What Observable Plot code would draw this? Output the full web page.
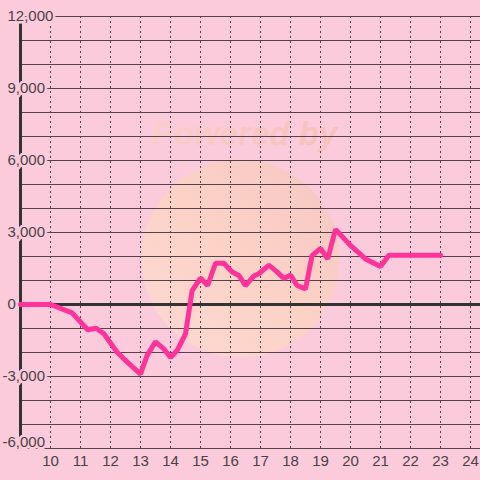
<!DOCTYPE html>
<html>
<head>
<meta charset="utf-8">
<script src="https://cdn.jsdelivr.net/npm/d3@7"></script>
<script src="https://cdn.jsdelivr.net/npm/@observablehq/plot@0.6"></script>
<style>
  html, body { margin: 0; padding: 0; background: #fccbdb; }
</style>
</head>
<body>
<div id="chart"></div>
<script>
// Data
const days = [9, 10, 10.72, 11.24, 11.52, 11.78, 12.22, 12.56, 13.0, 13.22, 13.5, 13.78, 14.0, 14.22, 14.5, 14.72, 15.0, 15.24, 15.5, 15.78, 16.06, 16.28, 16.5, 16.78, 16.94, 17.28, 17.56, 17.78, 18.0, 18.22, 18.5, 18.72, 19.0, 19.24, 19.5, 20.0, 20.5, 21.0, 21.28, 23.0];
const values = [0, 0, -350, -1050, -990, -1220, -1990, -2400, -2900, -2120, -1560, -1850, -2210, -1920, -1220, 580, 1100, 790, 1720, 1720, 1350, 1210, 790, 1190, 1280, 1640, 1350, 1080, 1230, 790, 650, 2040, 2340, 1900, 3130, 2460, 1900, 1580, 2050, 2050];
const xTicks = [10, 11, 12, 13, 14, 15, 16, 17, 18, 19, 20, 21, 22, 23, 24];
const yLabelTicks = [-6000, -3000, 0, 3000, 6000, 9000, 12000];
const yGrid = d3.range(-6000, 12001, 1000);
const watermark = ["Powered by"];

const bg = "#fccbdb";
const gridColor = "#56414c";
const textColor = "#4a4146";

const data = days.map((d, i) => ({day: d, value: values[i]}));
const fmt = d3.format(",");

const chart = Plot.plot({
  width: 480,
  height: 480,
  marginLeft: 20,
  marginRight: 0,
  marginTop: 16,
  marginBottom: 32,
  x: {domain: [9, 24 + 1/3], axis: null},
  y: {domain: [-6000, 12000], axis: null},
  style: {background: bg, fontFamily: "'Liberation Sans', Arial, sans-serif", fontSize: "15px", overflow: "visible"},
  marks: [
    Plot.dot([0], {frameAnchor: "middle", r: 99, dx: -10, dy: 26, fill: "url(#wmgrad)", stroke: "none"}),
    Plot.text(watermark, {frameAnchor: "middle", dx: -6, dy: -98, text: d => d, fontSize: 33, fontWeight: "bold", fontStyle: "italic", fill: "url(#txtgrad)"}),
    Plot.ruleY(yGrid, {stroke: gridColor, strokeWidth: 1}),
    Plot.ruleX(xTicks, {stroke: gridColor, strokeWidth: 1, strokeDasharray: "2,3"}),
    Plot.ruleY([0], {stroke: "#333", strokeWidth: 3}),
    Plot.ruleX([9], {stroke: "#333", strokeWidth: 3}),
    Plot.line(data, {x: "day", y: "value", stroke: "#ff3399", strokeWidth: 5, strokeLinejoin: "miter"}),
    Plot.text(yLabelTicks.filter(v => v >= 0), {frameAnchor: "left", y: d => d, text: d => fmt(d), textAnchor: "start", dx: -13, fill: textColor, stroke: bg, strokeWidth: 5, fontSize: 15}),
    Plot.text(yLabelTicks.filter(v => v < 0 && v > -6000), {frameAnchor: "left", y: d => d, text: d => fmt(d).replace("−", "-"), textAnchor: "start", dx: -18, fill: textColor, stroke: bg, strokeWidth: 5, fontSize: 15}),
    Plot.text(yLabelTicks.filter(v => v === -6000), {frameAnchor: "left", y: d => d, text: d => fmt(d).replace("−", "-"), textAnchor: "start", dx: -18, dy: -6, fill: textColor, stroke: bg, strokeWidth: 5, fontSize: 15}),
    Plot.text(xTicks, {frameAnchor: "bottom", x: d => d, text: d => String(d), lineAnchor: "middle", dy: 13, fill: textColor, fontSize: 15})
  ]
});

const svg = d3.select(chart);
const defs = svg.insert("defs", ":first-child");
const g = defs.append("linearGradient").attr("id", "wmgrad")
  .attr("x1", "0").attr("y1", "1").attr("x2", "1").attr("y2", "0");
g.append("stop").attr("offset", "0%").attr("stop-color", "#fdd9d3");
g.append("stop").attr("offset", "50%").attr("stop-color", "#fcd2c6");
g.append("stop").attr("offset", "100%").attr("stop-color", "#f6c6c4");
const t = defs.append("linearGradient").attr("id", "txtgrad")
  .attr("x1", "0").attr("y1", "0").attr("x2", "1").attr("y2", "0");
t.append("stop").attr("offset", "0%").attr("stop-color", "#fbcdc9");
t.append("stop").attr("offset", "100%").attr("stop-color", "#f6c1bb");

document.getElementById("chart").appendChild(chart);
</script>
</body>
</html>
